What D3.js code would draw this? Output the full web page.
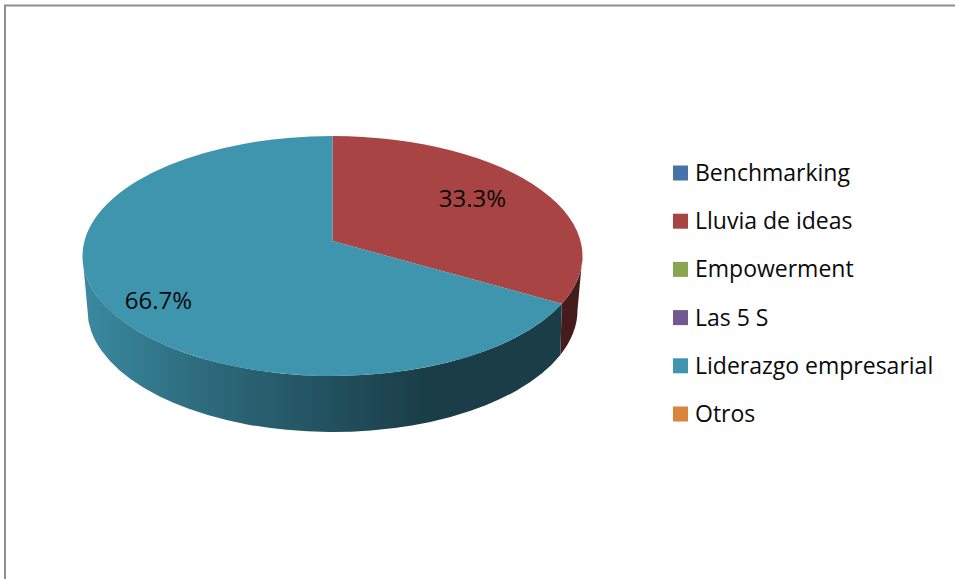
<!DOCTYPE html>
<meta charset="utf-8">
<style>
body { margin: 0; background: #fff; }
text { font-family: "Open Sans", sans-serif; fill: #0a0a0a; }
.legend text { font-size: 23px; }
.pct { font-size: 24px; text-anchor: middle; }
</style>
<body>
<svg id="chart" width="955" height="579"></svg>
<script src="https://d3js.org/d3.v7.min.js"></script>
<script>
// data
var categories = ["Benchmarking", "Lluvia de ideas", "Empowerment", "Las 5 S", "Liderazgo empresarial", "Otros"];
var shares = [0, 33.3, 0, 0, 66.7, 0];
var colors = ["#4673a8", "#a84443", "#8aa54f", "#71588f", "#3f95ae", "#da843d"];

var svg = d3.select("#chart");
var defs = svg.append("defs");

// frame, only top and left are in the crop
svg.append("path")
    .attr("d", "M5,579V5.5H955")
    .attr("fill", "none")
    .attr("stroke", "#8f8f8f")
    .attr("stroke-width", 2);

// pie geometry: top ellipse, a smaller bottom ellipse, perspective for the apex
var cx = 332.5, cy = 256, rx = 250, ry = 120;
var cyB = 310, rxB = 245, ryB = 122;
var apexShift = -15, persp = -0.125, kx = 248;

function project(angle, r) {
  var u = Math.sin(angle) * r, v = -Math.cos(angle) * r;
  var w = 1 + persp * v;
  return [cx + kx * u / w, cy + (ry * v + apexShift) / w];
}
// wall foot: drop to the bottom ellipse, wall gets shorter toward the sides
function projectBottom(angle) {
  var p = project(angle, 1);
  var dy = (p[1] - cy) * 0.94;
  var dx = rxB * Math.sqrt(1 - (dy / ryB) * (dy / ryB));
  return [cx + (p[0] < cx ? -dx : dx), cyB + dy];
}

var pie = d3.pie().sort(null).value(function(d) { return d.share; });
var slices = pie(categories.map(function(c, i) {
  return {name: c, share: shares[i], color: colors[i]};
})).filter(function(d) { return d.data.share > 0; });

// the wall shows between the two horizontal extremes of the ellipse
var rightEdge = Math.PI - Math.acos(-apexShift / ry);
var leftEdge = 2 * Math.PI - rightEdge;

function sidePath(d) {
  var a0 = Math.max(d.startAngle, rightEdge), a1 = Math.min(d.endAngle, leftEdge);
  if (a1 <= a0) return null;
  var t0 = project(a0, 1), t1 = project(a1, 1), b0 = projectBottom(a0), b1 = projectBottom(a1);
  return "M" + t0 + "A" + rx + "," + ry + " 0 0 1 " + t1 +
    "L" + b1 + "A" + rxB + "," + ryB + " 0 0 0 " + b0 + "Z";
}

function topPath(d) {
  var p0 = project(d.startAngle, 1), p1 = project(d.endAngle, 1);
  var large = d.endAngle - d.startAngle > Math.PI ? 1 : 0;
  return "M" + project(0, 0) + "L" + p0 + "A" + rx + "," + ry + " 0 " + large + " 1 " + p1 + "Z";
}

// wall shading runs from left to right, same ramp for each slice
slices.forEach(function(d, i) {
  var base = d3.rgb(d.data.color);
  var g = defs.append("linearGradient")
      .attr("id", "wall" + i)
      .attr("gradientUnits", "userSpaceOnUse")
      .attr("x1", 87).attr("x2", 561).attr("y1", 0).attr("y2", 0);
  [[0, 0.92], [0.24, 0.72], [0.52, 0.54], [0.72, 0.41], [1, 0.41]].forEach(function(s) {
    g.append("stop")
        .attr("offset", s[0])
        .attr("stop-color", d3.rgb(base.r * s[1], base.g * s[1], base.b * s[1]).formatHex());
  });
});

var pieG = svg.append("g");

pieG.selectAll(".wall")
  .data(slices)
  .enter().append("path")
    .attr("class", "wall")
    .attr("d", sidePath)
    .attr("fill", function(d, i) { return "url(#wall" + i + ")"; });

pieG.selectAll(".face")
  .data(slices)
  .enter().append("path")
    .attr("class", "face")
    .attr("d", topPath)
    .attr("fill", function(d) { return d.data.color; });

// percentage labels, nudged where the original sits off the projected spot
var labelNudge = {"Lluvia de ideas": [-4, -3], "Liderazgo empresarial": [-17, 16]};

pieG.selectAll(".pct")
  .data(slices)
  .enter().append("text")
    .attr("class", "pct")
    .attr("transform", function(d) {
      var p = project((d.startAngle + d.endAngle) / 2, 0.7);
      var n = labelNudge[d.data.name];
      return "translate(" + (p[0] + n[0]) + "," + (p[1] + n[1]) + ")";
    })
    .attr("dy", "0.35em")
    .text(function(d) { return d.data.share.toFixed(1) + "%"; });

// legend
var legendY = d3.scalePoint().domain(categories).range([173, 414]);

var legend = svg.append("g").attr("class", "legend")
  .selectAll("g")
  .data(categories)
  .enter().append("g")
    .attr("transform", function(d) { return "translate(673," + legendY(d) + ")"; });

legend.append("rect")
    .attr("y", -7.5)
    .attr("width", 15)
    .attr("height", 15)
    .attr("fill", function(d, i) { return colors[i]; });

legend.append("text")
    .attr("x", 22)
    .attr("dy", "0.35em")
    .text(function(d) { return d; });
</script>
</body>
